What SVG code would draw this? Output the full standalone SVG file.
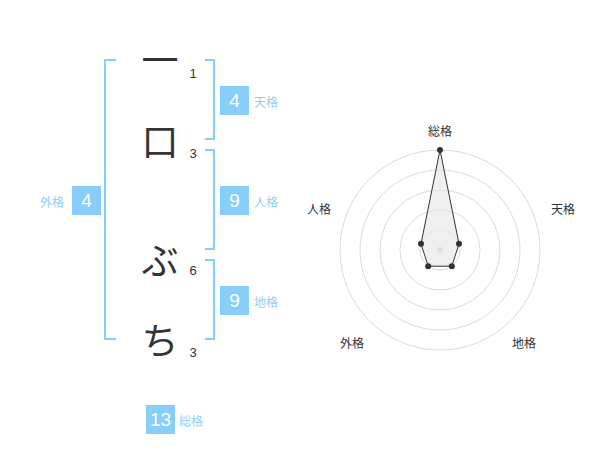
<svg xmlns="http://www.w3.org/2000/svg" width="600" height="470" viewBox="0 0 600 470">
<style>
.ch{font-family:"Noto Sans CJK JP","Noto Sans",sans-serif;font-size:37px;fill:#333;text-anchor:middle;dominant-baseline:central}
.num{font-family:"Liberation Sans",Arial,sans-serif;font-size:13px;fill:#333;text-anchor:middle;dominant-baseline:central}
.br{fill:none;stroke:#85cdfa;stroke-width:2}
.box{fill:#88cefa}
.bv{font-family:"Liberation Sans",Arial,sans-serif;font-size:19px;fill:#fff;text-anchor:middle;dominant-baseline:central}
.bl{font-family:"Noto Sans CJK JP","Noto Sans",sans-serif;font-size:12px;fill:#8fd0f8;dominant-baseline:central}
.rl{font-family:"Noto Sans CJK JP","Noto Sans",sans-serif;font-size:12px;fill:#333;text-anchor:middle;dominant-baseline:central}
.ring{fill:none;stroke:#d0d0d0;stroke-width:0.8}
.pt{fill:#333}
</style>
<rect width="600" height="470" fill="#fff"/>
<g id="chars">
<text class="ch" x="160" y="58">一</text>
<text class="num" x="193" y="73">1</text>
<text class="ch" x="160" y="140">口</text>
<text class="num" x="193" y="153">3</text>
<text class="ch" x="160" y="259">ぶ</text>
<text class="num" x="193" y="270">6</text>
<text class="ch" x="160" y="339">ち</text>
<text class="num" x="193" y="352">3</text>
</g>
<g id="brackets">
<polyline class="br" points="116,60 105,60 105,339 116,339"/>
<polyline class="br" points="205,60 214,60 214,139 205,139"/>
<polyline class="br" points="205,150 214,150 214,249 205,249"/>
<polyline class="br" points="205,260 214,260 214,339 205,339"/>
</g>
<g id="tenkaku">
<rect class="box" x="220" y="86" width="29" height="29"/>
<text class="bv" x="234.5" y="100.5">4</text>
<text class="bl" x="254" y="101">天格</text>
</g>
<g id="jinkaku">
<rect class="box" x="220" y="186" width="29" height="29"/>
<text class="bv" x="234.5" y="200.5">9</text>
<text class="bl" x="254" y="201">人格</text>
</g>
<g id="chikaku">
<rect class="box" x="220" y="286" width="29" height="29"/>
<text class="bv" x="234.5" y="300.5">9</text>
<text class="bl" x="254" y="301">地格</text>
</g>
<g id="gaikaku">
<rect class="box" x="72" y="186" width="29" height="29"/>
<text class="bv" x="86.5" y="200.5">4</text>
<text class="bl" x="40" y="201">外格</text>
</g>
<g id="soukaku">
<rect class="box" x="146" y="405" width="29" height="29"/>
<text class="bv" x="160.5" y="419.5">13</text>
<text class="bl" x="179" y="420">総格</text>
</g>
<g id="radar">
<circle class="ring" cx="440" cy="250" r="20"/>
<circle class="ring" cx="440" cy="250" r="40"/>
<circle class="ring" cx="440" cy="250" r="60"/>
<circle class="ring" cx="440" cy="250" r="80"/>
<circle class="ring" cx="440" cy="250" r="100"/>
<circle cx="440" cy="250" r="3" fill="#ccc"/>
<polygon points="440,150 459,243.8 451.8,266.2 428.2,266.2 421,243.8" fill="#e8e8e8" fill-opacity="0.7" stroke="#333" stroke-width="1"/>
<circle class="pt" cx="440" cy="150" r="3"/>
<circle class="pt" cx="459" cy="243.8" r="3"/>
<circle class="pt" cx="451.8" cy="266.2" r="3"/>
<circle class="pt" cx="428.2" cy="266.2" r="3"/>
<circle class="pt" cx="421" cy="243.8" r="3"/>
<text class="rl" x="440" y="130">総格</text>
<text class="rl" x="563" y="208">天格</text>
<text class="rl" x="524" y="342">地格</text>
<text class="rl" x="352" y="342">外格</text>
<text class="rl" x="319" y="208">人格</text>
</g>
</svg>
